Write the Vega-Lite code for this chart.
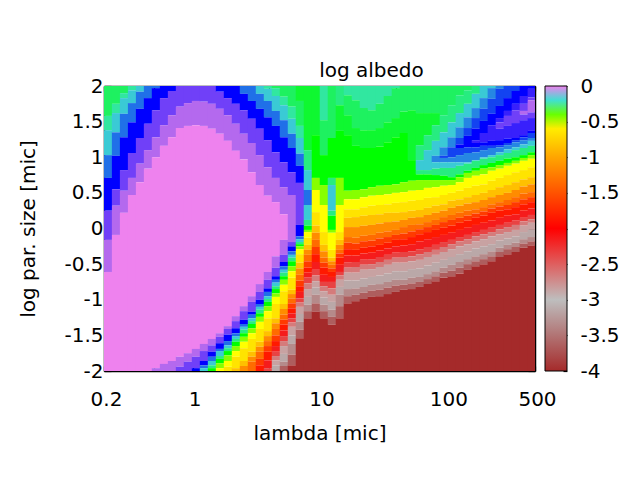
{"$schema":"https://vega.github.io/schema/vega-lite/v6.json","width":431,"height":285,"autosize":{"type":"none"},"padding":{"left":104,"top":86,"right":105,"bottom":109},"background":"white",
"config":{"view":{"stroke":null},"axis":{"labelFont":"DejaVu Sans","titleFont":"DejaVu Sans","labelFontSize":20,"titleFontSize":20,"titleFontWeight":"normal","labelColor":"#000","titleColor":"#000","tickColor":"#000","domainColor":"#000","grid":false,"zindex":1,"labelOverlap":false,"labelFlush":false,"labelBound":false,"tickWidth":1.2,"domainWidth":1.5}},
"title":{"text":"log albedo","font":"DejaVu Sans","fontSize":20,"fontWeight":"normal","color":"#000","anchor":"middle","dx":52,"offset":-5},
"resolve":{"scale":{"y":"independent"},"axis":{"x":"independent","y":"independent"}},
"layer":[
{"data":{"values":[
{"l":0.215,"s":2},{"l":0.215,"s":1.58,"v":-0.27},{"l":0.215,"s":1.38,"v":-0.23},{"l":0.215,"s":1.03,"v":-0.19},{"l":0.215,"s":0.71,"v":-0.15},{"l":0.215,"s":0.25,"v":-0.1},{"l":0.215,"s":-0.16,"v":-0.07},{"l":0.215,"s":-0.61,"v":-0.04},{"l":0.215,"s":-2,"v":0},
{"l":0.249,"s":2},{"l":0.249,"s":1.75,"v":-0.27},{"l":0.249,"s":1.62,"v":-0.23},{"l":0.249,"s":1.35,"v":-0.19},{"l":0.249,"s":1.02,"v":-0.15},{"l":0.249,"s":0.55,"v":-0.1},{"l":0.249,"s":0.32,"v":-0.07},{"l":0.249,"s":-0.09,"v":-0.04},{"l":0.249,"s":-2,"v":0},
{"l":0.288,"s":2},{"l":0.288,"s":1.9,"v":-0.27},{"l":0.288,"s":1.83,"v":-0.23},{"l":0.288,"s":1.61,"v":-0.19},{"l":0.288,"s":1.28,"v":-0.15},{"l":0.288,"s":0.82,"v":-0.1},{"l":0.288,"s":0.53,"v":-0.07},{"l":0.288,"s":0.22,"v":-0.04},{"l":0.288,"s":-2,"v":0},
{"l":0.333,"s":2},{"l":0.333,"s":1.94,"v":-0.23},{"l":0.333,"s":1.76,"v":-0.19},{"l":0.333,"s":1.49,"v":-0.15},{"l":0.333,"s":1.06,"v":-0.1},{"l":0.333,"s":0.71,"v":-0.07},{"l":0.333,"s":0.47,"v":-0.04},{"l":0.333,"s":-2,"v":0},
{"l":0.385,"s":2},{"l":0.385,"s":1.92,"v":-0.19},{"l":0.385,"s":1.68,"v":-0.15},{"l":0.385,"s":1.27,"v":-0.1},{"l":0.385,"s":0.91,"v":-0.07},{"l":0.385,"s":0.65,"v":-0.04},{"l":0.385,"s":-2,"v":0},
{"l":0.445,"s":2},{"l":0.445,"s":1.83,"v":-0.15},{"l":0.445,"s":1.47,"v":-0.1},{"l":0.445,"s":1.1,"v":-0.07},{"l":0.445,"s":0.84,"v":-0.04},{"l":0.445,"s":-2,"v":0},
{"l":0.514,"s":2},{"l":0.514,"s":1.97,"v":-0.15},{"l":0.514,"s":1.66,"v":-0.1},{"l":0.514,"s":1.28,"v":-0.07},{"l":0.514,"s":1,"v":-0.04},{"l":0.514,"s":-1.96,"v":0},{"l":0.514,"s":-2,"v":-0.04},
{"l":0.595,"s":2},{"l":0.595,"s":1.83,"v":-0.1},{"l":0.595,"s":1.45,"v":-0.07},{"l":0.595,"s":1.16,"v":-0.04},{"l":0.595,"s":-1.9,"v":0},{"l":0.595,"s":-2,"v":-0.04},
{"l":0.688,"s":2},{"l":0.688,"s":1.93,"v":-0.1},{"l":0.688,"s":1.59,"v":-0.07},{"l":0.688,"s":1.28,"v":-0.04},{"l":0.688,"s":-1.86,"v":0},{"l":0.688,"s":-2,"v":-0.04},
{"l":0.795,"s":2},{"l":0.795,"s":1.71,"v":-0.07},{"l":0.795,"s":1.41,"v":-0.04},{"l":0.795,"s":-1.8,"v":0},{"l":0.795,"s":-1.94,"v":-0.04},{"l":0.795,"s":-2,"v":-0.07},
{"l":0.919,"s":2},{"l":0.919,"s":1.76,"v":-0.07},{"l":0.919,"s":1.44,"v":-0.04},{"l":0.919,"s":-1.75,"v":0},{"l":0.919,"s":-1.87,"v":-0.04},{"l":0.919,"s":-2,"v":-0.07},
{"l":1.063,"s":2},{"l":1.063,"s":1.79,"v":-0.07},{"l":1.063,"s":1.45,"v":-0.04},{"l":1.063,"s":-1.69,"v":0},{"l":1.063,"s":-1.8,"v":-0.04},{"l":1.063,"s":-1.96,"v":-0.07},{"l":1.063,"s":-2,"v":-0.1},
{"l":1.229,"s":2},{"l":1.229,"s":1.78,"v":-0.07},{"l":1.229,"s":1.44,"v":-0.04},{"l":1.229,"s":-1.62,"v":0},{"l":1.229,"s":-1.72,"v":-0.04},{"l":1.229,"s":-1.86,"v":-0.07},{"l":1.229,"s":-1.92,"v":-0.1},{"l":1.229,"s":-1.96,"v":-0.15},{"l":1.229,"s":-2,"v":-0.19},
{"l":1.421,"s":2},{"l":1.421,"s":1.75,"v":-0.07},{"l":1.421,"s":1.4,"v":-0.04},{"l":1.421,"s":-1.55,"v":0},{"l":1.421,"s":-1.64,"v":-0.04},{"l":1.421,"s":-1.73,"v":-0.07},{"l":1.421,"s":-1.8,"v":-0.1},{"l":1.421,"s":-1.86,"v":-0.15},{"l":1.421,"s":-1.92,"v":-0.19},{"l":1.421,"s":-1.96,"v":-0.25},{"l":1.421,"s":-2,"v":-0.33},
{"l":1.643,"s":2},{"l":1.643,"s":1.92,"v":-0.1},{"l":1.643,"s":1.68,"v":-0.07},{"l":1.643,"s":1.33,"v":-0.04},{"l":1.643,"s":-1.47,"v":0},{"l":1.643,"s":-1.52,"v":-0.04},{"l":1.643,"s":-1.61,"v":-0.07},{"l":1.643,"s":-1.69,"v":-0.1},{"l":1.643,"s":-1.72,"v":-0.15},{"l":1.643,"s":-1.79,"v":-0.19},{"l":1.643,"s":-1.83,"v":-0.25},{"l":1.643,"s":-1.89,"v":-0.33},{"l":1.643,"s":-1.96,"v":-0.42},{"l":1.643,"s":-2,"v":-0.5},
{"l":1.899,"s":2},{"l":1.899,"s":1.83,"v":-0.1},{"l":1.899,"s":1.59,"v":-0.07},{"l":1.899,"s":1.23,"v":-0.04},{"l":1.899,"s":-1.37,"v":0},{"l":1.899,"s":-1.41,"v":-0.04},{"l":1.899,"s":-1.49,"v":-0.07},{"l":1.899,"s":-1.58,"v":-0.1},{"l":1.899,"s":-1.64,"v":-0.15},{"l":1.899,"s":-1.68,"v":-0.19},{"l":1.899,"s":-1.72,"v":-0.25},{"l":1.899,"s":-1.78,"v":-0.33},{"l":1.899,"s":-1.86,"v":-0.42},{"l":1.899,"s":-1.94,"v":-0.5},{"l":1.899,"s":-2,"v":-0.65},
{"l":2.196,"s":2},{"l":2.196,"s":1.75,"v":-0.1},{"l":2.196,"s":1.47,"v":-0.07},{"l":2.196,"s":1.09,"v":-0.04},{"l":2.196,"s":-1.23,"v":0},{"l":2.196,"s":-1.3,"v":-0.04},{"l":2.196,"s":-1.4,"v":-0.07},{"l":2.196,"s":-1.47,"v":-0.1},{"l":2.196,"s":-1.51,"v":-0.15},{"l":2.196,"s":-1.55,"v":-0.19},{"l":2.196,"s":-1.59,"v":-0.25},{"l":2.196,"s":-1.65,"v":-0.33},{"l":2.196,"s":-1.72,"v":-0.42},{"l":2.196,"s":-1.8,"v":-0.5},{"l":2.196,"s":-1.96,"v":-0.65},{"l":2.196,"s":-2,"v":-0.85},
{"l":2.539,"s":2},{"l":2.539,"s":1.89,"v":-0.15},{"l":2.539,"s":1.66,"v":-0.1},{"l":2.539,"s":1.33,"v":-0.07},{"l":2.539,"s":0.97,"v":-0.04},{"l":2.539,"s":-1.09,"v":0},{"l":2.539,"s":-1.16,"v":-0.04},{"l":2.539,"s":-1.28,"v":-0.07},{"l":2.539,"s":-1.34,"v":-0.1},{"l":2.539,"s":-1.38,"v":-0.15},{"l":2.539,"s":-1.42,"v":-0.19},{"l":2.539,"s":-1.47,"v":-0.25},{"l":2.539,"s":-1.52,"v":-0.33},{"l":2.539,"s":-1.59,"v":-0.42},{"l":2.539,"s":-1.68,"v":-0.5},{"l":2.539,"s":-1.86,"v":-0.65},{"l":2.539,"s":-1.93,"v":-0.85},{"l":2.539,"s":-2,"v":-1.15},
{"l":2.936,"s":2},{"l":2.936,"s":1.79,"v":-0.15},{"l":2.936,"s":1.54,"v":-0.1},{"l":2.936,"s":1.2,"v":-0.07},{"l":2.936,"s":0.79,"v":-0.04},{"l":2.936,"s":-0.95,"v":0},{"l":2.936,"s":-1.03,"v":-0.04},{"l":2.936,"s":-1.17,"v":-0.07},{"l":2.936,"s":-1.21,"v":-0.1},{"l":2.936,"s":-1.26,"v":-0.15},{"l":2.936,"s":-1.3,"v":-0.19},{"l":2.936,"s":-1.34,"v":-0.25},{"l":2.936,"s":-1.4,"v":-0.33},{"l":2.936,"s":-1.47,"v":-0.42},{"l":2.936,"s":-1.55,"v":-0.5},{"l":2.936,"s":-1.73,"v":-0.65},{"l":2.936,"s":-1.8,"v":-0.85},{"l":2.936,"s":-1.87,"v":-1.15},{"l":2.936,"s":-2,"v":-1.35},
{"l":3.394,"s":2},{"l":3.394,"s":1.89,"v":-0.19},{"l":3.394,"s":1.68,"v":-0.15},{"l":3.394,"s":1.4,"v":-0.1},{"l":3.394,"s":1.03,"v":-0.07},{"l":3.394,"s":0.61,"v":-0.04},{"l":3.394,"s":-0.78,"v":0},{"l":3.394,"s":-0.89,"v":-0.04},{"l":3.394,"s":-1,"v":-0.07},{"l":3.394,"s":-1.06,"v":-0.1},{"l":3.394,"s":-1.1,"v":-0.15},{"l":3.394,"s":-1.14,"v":-0.19},{"l":3.394,"s":-1.19,"v":-0.25},{"l":3.394,"s":-1.24,"v":-0.33},{"l":3.394,"s":-1.31,"v":-0.42},{"l":3.394,"s":-1.41,"v":-0.5},{"l":3.394,"s":-1.59,"v":-0.65},{"l":3.394,"s":-1.66,"v":-0.85},{"l":3.394,"s":-1.73,"v":-1.15},{"l":3.394,"s":-1.83,"v":-1.35},{"l":3.394,"s":-1.92,"v":-1.65},{"l":3.394,"s":-2,"v":-1.85},
{"l":3.924,"s":2},{"l":3.924,"s":1.96,"v":-0.23},{"l":3.924,"s":1.79,"v":-0.19},{"l":3.924,"s":1.56,"v":-0.15},{"l":3.924,"s":1.24,"v":-0.1},{"l":3.924,"s":0.86,"v":-0.07},{"l":3.924,"s":0.46,"v":-0.04},{"l":3.924,"s":-0.61,"v":0},{"l":3.924,"s":-0.72,"v":-0.04},{"l":3.924,"s":-0.84,"v":-0.07},{"l":3.924,"s":-0.89,"v":-0.1},{"l":3.924,"s":-0.95,"v":-0.15},{"l":3.924,"s":-0.99,"v":-0.19},{"l":3.924,"s":-1.03,"v":-0.25},{"l":3.924,"s":-1.09,"v":-0.33},{"l":3.924,"s":-1.16,"v":-0.42},{"l":3.924,"s":-1.26,"v":-0.5},{"l":3.924,"s":-1.44,"v":-0.65},{"l":3.924,"s":-1.51,"v":-0.85},{"l":3.924,"s":-1.58,"v":-1.15},{"l":3.924,"s":-1.65,"v":-1.35},{"l":3.924,"s":-1.73,"v":-1.65},{"l":3.924,"s":-1.85,"v":-1.85},{"l":3.924,"s":-1.96,"v":-2.15},{"l":3.924,"s":-2,"v":-2.35},
{"l":4.537,"s":2},{"l":4.537,"s":1.97,"v":-0.27},{"l":4.537,"s":1.86,"v":-0.23},{"l":4.537,"s":1.65,"v":-0.19},{"l":4.537,"s":1.44,"v":-0.15},{"l":4.537,"s":1.07,"v":-0.1},{"l":4.537,"s":0.71,"v":-0.07},{"l":4.537,"s":0.37,"v":-0.04},{"l":4.537,"s":-0.39,"v":0},{"l":4.537,"s":-0.55,"v":-0.04},{"l":4.537,"s":-0.67,"v":-0.07},{"l":4.537,"s":-0.72,"v":-0.1},{"l":4.537,"s":-0.76,"v":-0.15},{"l":4.537,"s":-0.81,"v":-0.19},{"l":4.537,"s":-0.85,"v":-0.25},{"l":4.537,"s":-0.91,"v":-0.33},{"l":4.537,"s":-0.96,"v":-0.42},{"l":4.537,"s":-1.06,"v":-0.5},{"l":4.537,"s":-1.26,"v":-0.65},{"l":4.537,"s":-1.33,"v":-0.85},{"l":4.537,"s":-1.41,"v":-1.15},{"l":4.537,"s":-1.5,"v":-1.35},{"l":4.537,"s":-1.58,"v":-1.65},{"l":4.537,"s":-1.65,"v":-1.85},{"l":4.537,"s":-1.73,"v":-2.15},{"l":4.537,"s":-1.79,"v":-2.35},{"l":4.537,"s":-1.85,"v":-2.65},{"l":4.537,"s":-1.92,"v":-2.85},{"l":4.537,"s":-2,"v":-3.15},
{"l":5.246,"s":2},{"l":5.246,"s":1.85,"v":-0.27},{"l":5.246,"s":1.73,"v":-0.23},{"l":5.246,"s":1.52,"v":-0.19},{"l":5.246,"s":1.28,"v":-0.15},{"l":5.246,"s":0.93,"v":-0.1},{"l":5.246,"s":0.58,"v":-0.07},{"l":5.246,"s":0.2,"v":-0.04},{"l":5.246,"s":-0.16,"v":0},{"l":5.246,"s":-0.37,"v":-0.04},{"l":5.246,"s":-0.47,"v":-0.07},{"l":5.246,"s":-0.53,"v":-0.1},{"l":5.246,"s":-0.58,"v":-0.15},{"l":5.246,"s":-0.62,"v":-0.19},{"l":5.246,"s":-0.67,"v":-0.25},{"l":5.246,"s":-0.72,"v":-0.33},{"l":5.246,"s":-0.79,"v":-0.42},{"l":5.246,"s":-0.88,"v":-0.5},{"l":5.246,"s":-1.06,"v":-0.65},{"l":5.246,"s":-1.13,"v":-0.85},{"l":5.246,"s":-1.21,"v":-1.15},{"l":5.246,"s":-1.28,"v":-1.35},{"l":5.246,"s":-1.35,"v":-1.65},{"l":5.246,"s":-1.43,"v":-1.85},{"l":5.246,"s":-1.51,"v":-2.15},{"l":5.246,"s":-1.58,"v":-2.35},{"l":5.246,"s":-1.65,"v":-2.65},{"l":5.246,"s":-1.76,"v":-2.85},{"l":5.246,"s":-1.87,"v":-3.15},{"l":5.246,"s":-1.93,"v":-3.35},{"l":5.246,"s":-2,"v":-3.65},
{"l":6.066,"s":2},{"l":6.066,"s":1.71,"v":-0.27},{"l":6.066,"s":1.54,"v":-0.23},{"l":6.066,"s":1.33,"v":-0.19},{"l":6.066,"s":1.13,"v":-0.15},{"l":6.066,"s":0.79,"v":-0.1},{"l":6.066,"s":0.47,"v":-0.07},{"l":6.066,"s":-0.19,"v":-0.04},{"l":6.066,"s":-0.25,"v":-0.07},{"l":6.066,"s":-0.32,"v":-0.1},{"l":6.066,"s":-0.37,"v":-0.15},{"l":6.066,"s":-0.41,"v":-0.19},{"l":6.066,"s":-0.46,"v":-0.25},{"l":6.066,"s":-0.53,"v":-0.33},{"l":6.066,"s":-0.6,"v":-0.42},{"l":6.066,"s":-0.69,"v":-0.5},{"l":6.066,"s":-0.86,"v":-0.65},{"l":6.066,"s":-0.92,"v":-0.85},{"l":6.066,"s":-0.98,"v":-1.15},{"l":6.066,"s":-1.05,"v":-1.35},{"l":6.066,"s":-1.12,"v":-1.65},{"l":6.066,"s":-1.19,"v":-1.85},{"l":6.066,"s":-1.26,"v":-2.15},{"l":6.066,"s":-1.32,"v":-2.35},{"l":6.066,"s":-1.38,"v":-2.65},{"l":6.066,"s":-1.5,"v":-2.85},{"l":6.066,"s":-1.62,"v":-3.15},{"l":6.066,"s":-1.77,"v":-3.35},{"l":6.066,"s":-1.92,"v":-3.65},{"l":6.066,"s":-2,"v":-4},
{"l":7.013,"s":2},{"l":7.013,"s":1.79,"v":-0.3},{"l":7.013,"s":1.44,"v":-0.27},{"l":7.013,"s":1.27,"v":-0.23},{"l":7.013,"s":1.05,"v":-0.19},{"l":7.013,"s":0.88,"v":-0.15},{"l":7.013,"s":0.64,"v":-0.1},{"l":7.013,"s":0.05,"v":-0.07},{"l":7.013,"s":-0.11,"v":-0.1},{"l":7.013,"s":-0.15,"v":-0.15},{"l":7.013,"s":-0.19,"v":-0.19},{"l":7.013,"s":-0.22,"v":-0.25},{"l":7.013,"s":-0.25,"v":-0.33},{"l":7.013,"s":-0.29,"v":-0.42},{"l":7.013,"s":-0.36,"v":-0.5},{"l":7.013,"s":-0.48,"v":-0.65},{"l":7.013,"s":-0.56,"v":-0.85},{"l":7.013,"s":-0.65,"v":-1.15},{"l":7.013,"s":-0.73,"v":-1.35},{"l":7.013,"s":-0.81,"v":-1.65},{"l":7.013,"s":-0.89,"v":-1.85},{"l":7.013,"s":-0.98,"v":-2.15},{"l":7.013,"s":-1.04,"v":-2.35},{"l":7.013,"s":-1.1,"v":-2.65},{"l":7.013,"s":-1.2,"v":-2.85},{"l":7.013,"s":-1.31,"v":-3.15},{"l":7.013,"s":-1.42,"v":-3.35},{"l":7.013,"s":-1.54,"v":-3.65},{"l":7.013,"s":-2,"v":-4},
{"l":8.108,"s":2},{"l":8.108,"s":1.1,"v":-0.3},{"l":8.108,"s":0.82,"v":-0.25},{"l":8.108,"s":0.54,"v":-0.19},{"l":8.108,"s":0.33,"v":-0.15},{"l":8.108,"s":0.12,"v":-0.19},{"l":8.108,"s":0.04,"v":-0.25},{"l":8.108,"s":-0.02,"v":-0.33},{"l":8.108,"s":-0.05,"v":-0.42},{"l":8.108,"s":-0.13,"v":-0.5},{"l":8.108,"s":-0.23,"v":-0.65},{"l":8.108,"s":-0.3,"v":-0.85},{"l":8.108,"s":-0.37,"v":-1.15},{"l":8.108,"s":-0.46,"v":-1.35},{"l":8.108,"s":-0.55,"v":-1.65},{"l":8.108,"s":-0.62,"v":-1.85},{"l":8.108,"s":-0.69,"v":-2.15},{"l":8.108,"s":-0.77,"v":-2.35},{"l":8.108,"s":-0.85,"v":-2.65},{"l":8.108,"s":-0.96,"v":-2.85},{"l":8.108,"s":-1.07,"v":-3.15},{"l":8.108,"s":-1.16,"v":-3.35},{"l":8.108,"s":-1.26,"v":-3.65},{"l":8.108,"s":-2,"v":-4},
{"l":9.375,"s":2},{"l":9.375,"s":1.31,"v":-0.3},{"l":9.375,"s":0.71,"v":-0.33},{"l":9.375,"s":0.54,"v":-0.42},{"l":9.375,"s":0.23,"v":-0.5},{"l":9.375,"s":0.04,"v":-0.65},{"l":9.375,"s":-0.06,"v":-0.85},{"l":9.375,"s":-0.16,"v":-1.15},{"l":9.375,"s":-0.26,"v":-1.35},{"l":9.375,"s":-0.36,"v":-1.65},{"l":9.375,"s":-0.47,"v":-1.85},{"l":9.375,"s":-0.58,"v":-2.15},{"l":9.375,"s":-0.66,"v":-2.35},{"l":9.375,"s":-0.74,"v":-2.65},{"l":9.375,"s":-0.83,"v":-2.85},{"l":9.375,"s":-0.93,"v":-3.15},{"l":9.375,"s":-1.05,"v":-3.35},{"l":9.375,"s":-1.17,"v":-3.65},{"l":9.375,"s":-2,"v":-4},
{"l":10.84,"s":2},{"l":10.84,"s":1.52,"v":-0.23},{"l":10.84,"s":1.03,"v":-0.27},{"l":10.84,"s":0.61,"v":-0.33},{"l":10.84,"s":0.33,"v":-0.42},{"l":10.84,"s":-0.05,"v":-0.5},{"l":10.84,"s":-0.23,"v":-0.65},{"l":10.84,"s":-0.32,"v":-0.85},{"l":10.84,"s":-0.41,"v":-1.15},{"l":10.84,"s":-0.48,"v":-1.35},{"l":10.84,"s":-0.55,"v":-1.65},{"l":10.84,"s":-0.65,"v":-1.85},{"l":10.84,"s":-0.75,"v":-2.15},{"l":10.84,"s":-0.81,"v":-2.35},{"l":10.84,"s":-0.88,"v":-2.65},{"l":10.84,"s":-0.97,"v":-2.85},{"l":10.84,"s":-1.07,"v":-3.15},{"l":10.84,"s":-1.16,"v":-3.35},{"l":10.84,"s":-1.26,"v":-3.65},{"l":10.84,"s":-2,"v":-4},
{"l":12.53,"s":2},{"l":12.53,"s":1.27,"v":-0.27},{"l":12.53,"s":0.71,"v":-0.33},{"l":12.53,"s":0.61,"v":-0.25},{"l":12.53,"s":0.25,"v":-0.19},{"l":12.53,"s":0.18,"v":-0.25},{"l":12.53,"s":-0.02,"v":-0.33},{"l":12.53,"s":-0.06,"v":-0.42},{"l":12.53,"s":-0.3,"v":-0.5},{"l":12.53,"s":-0.41,"v":-0.65},{"l":12.53,"s":-0.46,"v":-0.85},{"l":12.53,"s":-0.51,"v":-1.15},{"l":12.53,"s":-0.56,"v":-1.35},{"l":12.53,"s":-0.61,"v":-1.65},{"l":12.53,"s":-0.68,"v":-1.85},{"l":12.53,"s":-0.75,"v":-2.15},{"l":12.53,"s":-0.84,"v":-2.35},{"l":12.53,"s":-0.93,"v":-2.65},{"l":12.53,"s":-1.03,"v":-2.85},{"l":12.53,"s":-1.14,"v":-3.15},{"l":12.53,"s":-1.24,"v":-3.35},{"l":12.53,"s":-1.35,"v":-3.65},{"l":12.53,"s":-2,"v":-4},
{"l":14.49,"s":2},{"l":14.49,"s":1.73,"v":-0.25},{"l":14.49,"s":1.37,"v":-0.3},{"l":14.49,"s":0.71,"v":-0.33},{"l":14.49,"s":0.33,"v":-0.42},{"l":14.49,"s":-0.05,"v":-0.5},{"l":14.49,"s":-0.16,"v":-0.65},{"l":14.49,"s":-0.23,"v":-0.85},{"l":14.49,"s":-0.3,"v":-1.15},{"l":14.49,"s":-0.35,"v":-1.35},{"l":14.49,"s":-0.41,"v":-1.65},{"l":14.49,"s":-0.51,"v":-1.85},{"l":14.49,"s":-0.61,"v":-2.15},{"l":14.49,"s":-0.66,"v":-2.35},{"l":14.49,"s":-0.72,"v":-2.65},{"l":14.49,"s":-0.82,"v":-2.85},{"l":14.49,"s":-0.93,"v":-3.15},{"l":14.49,"s":-1.09,"v":-3.35},{"l":14.49,"s":-1.26,"v":-3.65},{"l":14.49,"s":-2,"v":-4},
{"l":16.75,"s":2},{"l":16.75,"s":1.87,"v":-0.23},{"l":16.75,"s":1.59,"v":-0.27},{"l":16.75,"s":1.31,"v":-0.3},{"l":16.75,"s":0.53,"v":-0.33},{"l":16.75,"s":0.41,"v":-0.42},{"l":16.75,"s":0.27,"v":-0.5},{"l":16.75,"s":0.15,"v":-0.65},{"l":16.75,"s":0.02,"v":-0.85},{"l":16.75,"s":-0.12,"v":-1.15},{"l":16.75,"s":-0.2,"v":-1.35},{"l":16.75,"s":-0.29,"v":-1.65},{"l":16.75,"s":-0.38,"v":-1.85},{"l":16.75,"s":-0.48,"v":-2.15},{"l":16.75,"s":-0.55,"v":-2.35},{"l":16.75,"s":-0.62,"v":-2.65},{"l":16.75,"s":-0.73,"v":-2.85},{"l":16.75,"s":-0.85,"v":-3.15},{"l":16.75,"s":-0.95,"v":-3.35},{"l":16.75,"s":-1.05,"v":-3.65},{"l":16.75,"s":-2,"v":-4},
{"l":19.37,"s":2},{"l":19.37,"s":1.8,"v":-0.23},{"l":19.37,"s":1.41,"v":-0.27},{"l":19.37,"s":1.16,"v":-0.3},{"l":19.37,"s":0.54,"v":-0.33},{"l":19.37,"s":0.41,"v":-0.42},{"l":19.37,"s":0.27,"v":-0.5},{"l":19.37,"s":0.16,"v":-0.65},{"l":19.37,"s":0.02,"v":-0.85},{"l":19.37,"s":-0.13,"v":-1.15},{"l":19.37,"s":-0.21,"v":-1.35},{"l":19.37,"s":-0.3,"v":-1.65},{"l":19.37,"s":-0.38,"v":-1.85},{"l":19.37,"s":-0.47,"v":-2.15},{"l":19.37,"s":-0.54,"v":-2.35},{"l":19.37,"s":-0.62,"v":-2.65},{"l":19.37,"s":-0.73,"v":-2.85},{"l":19.37,"s":-0.84,"v":-3.15},{"l":19.37,"s":-0.93,"v":-3.35},{"l":19.37,"s":-1.02,"v":-3.65},{"l":19.37,"s":-2,"v":-4},
{"l":22.39,"s":2},{"l":22.39,"s":1.69,"v":-0.23},{"l":22.39,"s":1.38,"v":-0.27},{"l":22.39,"s":1.13,"v":-0.3},{"l":22.39,"s":0.55,"v":-0.33},{"l":22.39,"s":0.44,"v":-0.42},{"l":22.39,"s":0.3,"v":-0.5},{"l":22.39,"s":0.18,"v":-0.65},{"l":22.39,"s":0.04,"v":-0.85},{"l":22.39,"s":-0.1,"v":-1.15},{"l":22.39,"s":-0.18,"v":-1.35},{"l":22.39,"s":-0.27,"v":-1.65},{"l":22.39,"s":-0.35,"v":-1.85},{"l":22.39,"s":-0.44,"v":-2.15},{"l":22.39,"s":-0.51,"v":-2.35},{"l":22.39,"s":-0.58,"v":-2.65},{"l":22.39,"s":-0.7,"v":-2.85},{"l":22.39,"s":-0.82,"v":-3.15},{"l":22.39,"s":-0.9,"v":-3.35},{"l":22.39,"s":-0.99,"v":-3.65},{"l":22.39,"s":-2,"v":-4},
{"l":25.89,"s":2},{"l":25.89,"s":1.66,"v":-0.23},{"l":25.89,"s":1.38,"v":-0.27},{"l":25.89,"s":1.13,"v":-0.3},{"l":25.89,"s":0.58,"v":-0.33},{"l":25.89,"s":0.46,"v":-0.42},{"l":25.89,"s":0.32,"v":-0.5},{"l":25.89,"s":0.19,"v":-0.65},{"l":25.89,"s":0.05,"v":-0.85},{"l":25.89,"s":-0.09,"v":-1.15},{"l":25.89,"s":-0.17,"v":-1.35},{"l":25.89,"s":-0.25,"v":-1.65},{"l":25.89,"s":-0.34,"v":-1.85},{"l":25.89,"s":-0.43,"v":-2.15},{"l":25.89,"s":-0.5,"v":-2.35},{"l":25.89,"s":-0.57,"v":-2.65},{"l":25.89,"s":-0.68,"v":-2.85},{"l":25.89,"s":-0.79,"v":-3.15},{"l":25.89,"s":-0.87,"v":-3.35},{"l":25.89,"s":-0.96,"v":-3.65},{"l":25.89,"s":-2,"v":-4},
{"l":29.94,"s":2},{"l":29.94,"s":1.75,"v":-0.23},{"l":29.94,"s":1.41,"v":-0.27},{"l":29.94,"s":1.15,"v":-0.3},{"l":29.94,"s":0.6,"v":-0.33},{"l":29.94,"s":0.47,"v":-0.42},{"l":29.94,"s":0.33,"v":-0.5},{"l":29.94,"s":0.2,"v":-0.65},{"l":29.94,"s":0.07,"v":-0.85},{"l":29.94,"s":-0.06,"v":-1.15},{"l":29.94,"s":-0.14,"v":-1.35},{"l":29.94,"s":-0.23,"v":-1.65},{"l":29.94,"s":-0.31,"v":-1.85},{"l":29.94,"s":-0.4,"v":-2.15},{"l":29.94,"s":-0.47,"v":-2.35},{"l":29.94,"s":-0.54,"v":-2.65},{"l":29.94,"s":-0.66,"v":-2.85},{"l":29.94,"s":-0.78,"v":-3.15},{"l":29.94,"s":-0.86,"v":-3.35},{"l":29.94,"s":-0.95,"v":-3.65},{"l":29.94,"s":-2,"v":-4},
{"l":34.61,"s":2},{"l":34.61,"s":1.86,"v":-0.23},{"l":34.61,"s":1.49,"v":-0.27},{"l":34.61,"s":1.21,"v":-0.3},{"l":34.61,"s":0.61,"v":-0.33},{"l":34.61,"s":0.48,"v":-0.42},{"l":34.61,"s":0.34,"v":-0.5},{"l":34.61,"s":0.22,"v":-0.65},{"l":34.61,"s":0.09,"v":-0.85},{"l":34.61,"s":-0.04,"v":-1.15},{"l":34.61,"s":-0.12,"v":-1.35},{"l":34.61,"s":-0.2,"v":-1.65},{"l":34.61,"s":-0.28,"v":-1.85},{"l":34.61,"s":-0.37,"v":-2.15},{"l":34.61,"s":-0.44,"v":-2.35},{"l":34.61,"s":-0.51,"v":-2.65},{"l":34.61,"s":-0.63,"v":-2.85},{"l":34.61,"s":-0.75,"v":-3.15},{"l":34.61,"s":-0.83,"v":-3.35},{"l":34.61,"s":-0.92,"v":-3.65},{"l":34.61,"s":-2,"v":-4},
{"l":40.02,"s":2},{"l":40.02,"s":1.97,"v":-0.23},{"l":40.02,"s":1.55,"v":-0.27},{"l":40.02,"s":1.28,"v":-0.3},{"l":40.02,"s":0.62,"v":-0.33},{"l":40.02,"s":0.5,"v":-0.42},{"l":40.02,"s":0.36,"v":-0.5},{"l":40.02,"s":0.22,"v":-0.65},{"l":40.02,"s":0.1,"v":-0.85},{"l":40.02,"s":-0.02,"v":-1.15},{"l":40.02,"s":-0.09,"v":-1.35},{"l":40.02,"s":-0.16,"v":-1.65},{"l":40.02,"s":-0.25,"v":-1.85},{"l":40.02,"s":-0.34,"v":-2.15},{"l":40.02,"s":-0.41,"v":-2.35},{"l":40.02,"s":-0.48,"v":-2.65},{"l":40.02,"s":-0.6,"v":-2.85},{"l":40.02,"s":-0.72,"v":-3.15},{"l":40.02,"s":-0.8,"v":-3.35},{"l":40.02,"s":-0.89,"v":-3.65},{"l":40.02,"s":-2,"v":-4},
{"l":46.27,"s":2},{"l":46.27,"s":1.64,"v":-0.27},{"l":46.27,"s":1.34,"v":-0.3},{"l":46.27,"s":0.65,"v":-0.33},{"l":46.27,"s":0.51,"v":-0.42},{"l":46.27,"s":0.37,"v":-0.5},{"l":46.27,"s":0.23,"v":-0.65},{"l":46.27,"s":0.12,"v":-0.85},{"l":46.27,"s":0.02,"v":-1.15},{"l":46.27,"s":-0.07,"v":-1.35},{"l":46.27,"s":-0.15,"v":-1.65},{"l":46.27,"s":-0.24,"v":-1.85},{"l":46.27,"s":-0.33,"v":-2.15},{"l":46.27,"s":-0.4,"v":-2.35},{"l":46.27,"s":-0.48,"v":-2.65},{"l":46.27,"s":-0.6,"v":-2.85},{"l":46.27,"s":-0.72,"v":-3.15},{"l":46.27,"s":-0.79,"v":-3.35},{"l":46.27,"s":-0.86,"v":-3.65},{"l":46.27,"s":-2,"v":-4},
{"l":53.5,"s":2},{"l":53.5,"s":1.66,"v":-0.27},{"l":53.5,"s":0.96,"v":-0.3},{"l":53.5,"s":0.67,"v":-0.33},{"l":53.5,"s":0.53,"v":-0.42},{"l":53.5,"s":0.39,"v":-0.5},{"l":53.5,"s":0.25,"v":-0.65},{"l":53.5,"s":0.15,"v":-0.85},{"l":53.5,"s":0.05,"v":-1.15},{"l":53.5,"s":-0.04,"v":-1.35},{"l":53.5,"s":-0.12,"v":-1.65},{"l":53.5,"s":-0.22,"v":-1.85},{"l":53.5,"s":-0.32,"v":-2.15},{"l":53.5,"s":-0.39,"v":-2.35},{"l":53.5,"s":-0.46,"v":-2.65},{"l":53.5,"s":-0.57,"v":-2.85},{"l":53.5,"s":-0.69,"v":-3.15},{"l":53.5,"s":-0.77,"v":-3.35},{"l":53.5,"s":-0.85,"v":-3.65},{"l":53.5,"s":-2,"v":-4},
{"l":61.85,"s":2},{"l":61.85,"s":1.62,"v":-0.27},{"l":61.85,"s":1.17,"v":-0.3},{"l":61.85,"s":0.96,"v":-0.25},{"l":61.85,"s":0.82,"v":-0.19},{"l":61.85,"s":0.76,"v":-0.25},{"l":61.85,"s":0.68,"v":-0.33},{"l":61.85,"s":0.54,"v":-0.42},{"l":61.85,"s":0.4,"v":-0.5},{"l":61.85,"s":0.26,"v":-0.65},{"l":61.85,"s":0.16,"v":-0.85},{"l":61.85,"s":0.06,"v":-1.15},{"l":61.85,"s":-0.01,"v":-1.35},{"l":61.85,"s":-0.08,"v":-1.65},{"l":61.85,"s":-0.18,"v":-1.85},{"l":61.85,"s":-0.29,"v":-2.15},{"l":61.85,"s":-0.36,"v":-2.35},{"l":61.85,"s":-0.44,"v":-2.65},{"l":61.85,"s":-0.56,"v":-2.85},{"l":61.85,"s":-0.68,"v":-3.15},{"l":61.85,"s":-0.75,"v":-3.35},{"l":61.85,"s":-0.82,"v":-3.65},{"l":61.85,"s":-2,"v":-4},
{"l":71.51,"s":2},{"l":71.51,"s":1.62,"v":-0.27},{"l":71.51,"s":1.31,"v":-0.3},{"l":71.51,"s":1.1,"v":-0.25},{"l":71.51,"s":0.82,"v":-0.19},{"l":71.51,"s":0.76,"v":-0.25},{"l":71.51,"s":0.68,"v":-0.33},{"l":71.51,"s":0.57,"v":-0.42},{"l":71.51,"s":0.43,"v":-0.5},{"l":71.51,"s":0.29,"v":-0.65},{"l":71.51,"s":0.19,"v":-0.85},{"l":71.51,"s":0.09,"v":-1.15},{"l":71.51,"s":0.02,"v":-1.35},{"l":71.51,"s":-0.05,"v":-1.65},{"l":71.51,"s":-0.15,"v":-1.85},{"l":71.51,"s":-0.26,"v":-2.15},{"l":71.51,"s":-0.33,"v":-2.35},{"l":71.51,"s":-0.4,"v":-2.65},{"l":71.51,"s":-0.52,"v":-2.85},{"l":71.51,"s":-0.64,"v":-3.15},{"l":71.51,"s":-0.71,"v":-3.35},{"l":71.51,"s":-0.78,"v":-3.65},{"l":71.51,"s":-2,"v":-4},
{"l":82.69,"s":2},{"l":82.69,"s":1.62,"v":-0.27},{"l":82.69,"s":1.45,"v":-0.3},{"l":82.69,"s":1.23,"v":-0.25},{"l":82.69,"s":1.02,"v":-0.19},{"l":82.69,"s":0.93,"v":-0.16},{"l":82.69,"s":0.84,"v":-0.19},{"l":82.69,"s":0.75,"v":-0.25},{"l":82.69,"s":0.68,"v":-0.33},{"l":82.69,"s":0.58,"v":-0.42},{"l":82.69,"s":0.44,"v":-0.5},{"l":82.69,"s":0.32,"v":-0.65},{"l":82.69,"s":0.22,"v":-0.85},{"l":82.69,"s":0.12,"v":-1.15},{"l":82.69,"s":0.05,"v":-1.35},{"l":82.69,"s":-0.02,"v":-1.65},{"l":82.69,"s":-0.12,"v":-1.85},{"l":82.69,"s":-0.23,"v":-2.15},{"l":82.69,"s":-0.3,"v":-2.35},{"l":82.69,"s":-0.37,"v":-2.65},{"l":82.69,"s":-0.48,"v":-2.85},{"l":82.69,"s":-0.6,"v":-3.15},{"l":82.69,"s":-0.67,"v":-3.35},{"l":82.69,"s":-0.74,"v":-3.65},{"l":82.69,"s":-2,"v":-4},
{"l":95.6,"s":2},{"l":95.6,"s":1.59,"v":-0.27},{"l":95.6,"s":1.35,"v":-0.25},{"l":95.6,"s":1.14,"v":-0.19},{"l":95.6,"s":1.02,"v":-0.16},{"l":95.6,"s":0.99,"v":-0.13},{"l":95.6,"s":0.93,"v":-0.16},{"l":95.6,"s":0.85,"v":-0.19},{"l":95.6,"s":0.74,"v":-0.25},{"l":95.6,"s":0.68,"v":-0.33},{"l":95.6,"s":0.6,"v":-0.42},{"l":95.6,"s":0.47,"v":-0.5},{"l":95.6,"s":0.34,"v":-0.65},{"l":95.6,"s":0.25,"v":-0.85},{"l":95.6,"s":0.16,"v":-1.15},{"l":95.6,"s":0.09,"v":-1.35},{"l":95.6,"s":0.01,"v":-1.65},{"l":95.6,"s":-0.09,"v":-1.85},{"l":95.6,"s":-0.19,"v":-2.15},{"l":95.6,"s":-0.26,"v":-2.35},{"l":95.6,"s":-0.33,"v":-2.65},{"l":95.6,"s":-0.44,"v":-2.85},{"l":95.6,"s":-0.55,"v":-3.15},{"l":95.6,"s":-0.62,"v":-3.35},{"l":95.6,"s":-0.69,"v":-3.65},{"l":95.6,"s":-2,"v":-4},
{"l":110.5,"s":2},{"l":110.5,"s":1.73,"v":-0.27},{"l":110.5,"s":1.49,"v":-0.25},{"l":110.5,"s":1.28,"v":-0.19},{"l":110.5,"s":1.14,"v":-0.16},{"l":110.5,"s":1,"v":-0.13},{"l":110.5,"s":0.93,"v":-0.16},{"l":110.5,"s":0.85,"v":-0.19},{"l":110.5,"s":0.72,"v":-0.25},{"l":110.5,"s":0.68,"v":-0.33},{"l":110.5,"s":0.61,"v":-0.42},{"l":110.5,"s":0.5,"v":-0.5},{"l":110.5,"s":0.39,"v":-0.65},{"l":110.5,"s":0.29,"v":-0.85},{"l":110.5,"s":0.19,"v":-1.15},{"l":110.5,"s":0.12,"v":-1.35},{"l":110.5,"s":0.04,"v":-1.65},{"l":110.5,"s":-0.06,"v":-1.85},{"l":110.5,"s":-0.16,"v":-2.15},{"l":110.5,"s":-0.22,"v":-2.35},{"l":110.5,"s":-0.29,"v":-2.65},{"l":110.5,"s":-0.4,"v":-2.85},{"l":110.5,"s":-0.51,"v":-3.15},{"l":110.5,"s":-0.59,"v":-3.35},{"l":110.5,"s":-0.67,"v":-3.65},{"l":110.5,"s":-2,"v":-4},
{"l":127.8,"s":2},{"l":127.8,"s":1.87,"v":-0.27},{"l":127.8,"s":1.62,"v":-0.25},{"l":127.8,"s":1.42,"v":-0.19},{"l":127.8,"s":1.27,"v":-0.16},{"l":127.8,"s":1.18,"v":-0.13},{"l":127.8,"s":1.13,"v":-0.1},{"l":127.8,"s":1.03,"v":-0.13},{"l":127.8,"s":0.93,"v":-0.16},{"l":127.8,"s":0.88,"v":-0.19},{"l":127.8,"s":0.76,"v":-0.25},{"l":127.8,"s":0.72,"v":-0.33},{"l":127.8,"s":0.65,"v":-0.42},{"l":127.8,"s":0.53,"v":-0.5},{"l":127.8,"s":0.41,"v":-0.65},{"l":127.8,"s":0.32,"v":-0.85},{"l":127.8,"s":0.22,"v":-1.15},{"l":127.8,"s":0.15,"v":-1.35},{"l":127.8,"s":0.08,"v":-1.65},{"l":127.8,"s":-0.02,"v":-1.85},{"l":127.8,"s":-0.12,"v":-2.15},{"l":127.8,"s":-0.18,"v":-2.35},{"l":127.8,"s":-0.25,"v":-2.65},{"l":127.8,"s":-0.36,"v":-2.85},{"l":127.8,"s":-0.47,"v":-3.15},{"l":127.8,"s":-0.55,"v":-3.35},{"l":127.8,"s":-0.63,"v":-3.65},{"l":127.8,"s":-2,"v":-4},
{"l":147.8,"s":2},{"l":147.8,"s":1.94,"v":-0.27},{"l":147.8,"s":1.75,"v":-0.25},{"l":147.8,"s":1.56,"v":-0.19},{"l":147.8,"s":1.41,"v":-0.16},{"l":147.8,"s":1.3,"v":-0.13},{"l":147.8,"s":1.14,"v":-0.1},{"l":147.8,"s":1.06,"v":-0.13},{"l":147.8,"s":0.93,"v":-0.16},{"l":147.8,"s":0.91,"v":-0.19},{"l":147.8,"s":0.81,"v":-0.25},{"l":147.8,"s":0.78,"v":-0.33},{"l":147.8,"s":0.71,"v":-0.42},{"l":147.8,"s":0.57,"v":-0.5},{"l":147.8,"s":0.44,"v":-0.65},{"l":147.8,"s":0.35,"v":-0.85},{"l":147.8,"s":0.25,"v":-1.15},{"l":147.8,"s":0.18,"v":-1.35},{"l":147.8,"s":0.11,"v":-1.65},{"l":147.8,"s":0.01,"v":-1.85},{"l":147.8,"s":-0.09,"v":-2.15},{"l":147.8,"s":-0.15,"v":-2.35},{"l":147.8,"s":-0.22,"v":-2.65},{"l":147.8,"s":-0.32,"v":-2.85},{"l":147.8,"s":-0.43,"v":-3.15},{"l":147.8,"s":-0.5,"v":-3.35},{"l":147.8,"s":-0.58,"v":-3.65},{"l":147.8,"s":-2,"v":-4},
{"l":170.9,"s":2},{"l":170.9,"s":1.89,"v":-0.25},{"l":170.9,"s":1.69,"v":-0.19},{"l":170.9,"s":1.55,"v":-0.16},{"l":170.9,"s":1.4,"v":-0.13},{"l":170.9,"s":1.24,"v":-0.1},{"l":170.9,"s":1.2,"v":-0.085},{"l":170.9,"s":1.14,"v":-0.1},{"l":170.9,"s":1.07,"v":-0.13},{"l":170.9,"s":0.96,"v":-0.16},{"l":170.9,"s":0.95,"v":-0.19},{"l":170.9,"s":0.85,"v":-0.25},{"l":170.9,"s":0.81,"v":-0.33},{"l":170.9,"s":0.74,"v":-0.42},{"l":170.9,"s":0.6,"v":-0.5},{"l":170.9,"s":0.47,"v":-0.65},{"l":170.9,"s":0.37,"v":-0.85},{"l":170.9,"s":0.27,"v":-1.15},{"l":170.9,"s":0.21,"v":-1.35},{"l":170.9,"s":0.15,"v":-1.65},{"l":170.9,"s":0.05,"v":-1.85},{"l":170.9,"s":-0.05,"v":-2.15},{"l":170.9,"s":-0.11,"v":-2.35},{"l":170.9,"s":-0.18,"v":-2.65},{"l":170.9,"s":-0.28,"v":-2.85},{"l":170.9,"s":-0.39,"v":-3.15},{"l":170.9,"s":-0.46,"v":-3.35},{"l":170.9,"s":-0.53,"v":-3.65},{"l":170.9,"s":-2,"v":-4},
{"l":197.6,"s":2},{"l":197.6,"s":1.83,"v":-0.19},{"l":197.6,"s":1.68,"v":-0.16},{"l":197.6,"s":1.51,"v":-0.13},{"l":197.6,"s":1.34,"v":-0.1},{"l":197.6,"s":1.21,"v":-0.085},{"l":197.6,"s":1.16,"v":-0.1},{"l":197.6,"s":1.1,"v":-0.13},{"l":197.6,"s":1,"v":-0.16},{"l":197.6,"s":0.98,"v":-0.19},{"l":197.6,"s":0.89,"v":-0.25},{"l":197.6,"s":0.84,"v":-0.33},{"l":197.6,"s":0.76,"v":-0.42},{"l":197.6,"s":0.62,"v":-0.5},{"l":197.6,"s":0.5,"v":-0.65},{"l":197.6,"s":0.4,"v":-0.85},{"l":197.6,"s":0.3,"v":-1.15},{"l":197.6,"s":0.24,"v":-1.35},{"l":197.6,"s":0.18,"v":-1.65},{"l":197.6,"s":0.08,"v":-1.85},{"l":197.6,"s":-0.02,"v":-2.15},{"l":197.6,"s":-0.08,"v":-2.35},{"l":197.6,"s":-0.15,"v":-2.65},{"l":197.6,"s":-0.25,"v":-2.85},{"l":197.6,"s":-0.36,"v":-3.15},{"l":197.6,"s":-0.43,"v":-3.35},{"l":197.6,"s":-0.5,"v":-3.65},{"l":197.6,"s":-2,"v":-4},
{"l":228.4,"s":2},{"l":228.4,"s":1.97,"v":-0.19},{"l":228.4,"s":1.82,"v":-0.16},{"l":228.4,"s":1.61,"v":-0.13},{"l":228.4,"s":1.45,"v":-0.1},{"l":228.4,"s":1.23,"v":-0.085},{"l":228.4,"s":1.16,"v":-0.1},{"l":228.4,"s":1.13,"v":-0.13},{"l":228.4,"s":1.03,"v":-0.16},{"l":228.4,"s":1,"v":-0.19},{"l":228.4,"s":0.92,"v":-0.25},{"l":228.4,"s":0.86,"v":-0.33},{"l":228.4,"s":0.81,"v":-0.42},{"l":228.4,"s":0.67,"v":-0.5},{"l":228.4,"s":0.54,"v":-0.65},{"l":228.4,"s":0.44,"v":-0.85},{"l":228.4,"s":0.34,"v":-1.15},{"l":228.4,"s":0.28,"v":-1.35},{"l":228.4,"s":0.22,"v":-1.65},{"l":228.4,"s":0.11,"v":-1.85},{"l":228.4,"s":0.01,"v":-2.15},{"l":228.4,"s":-0.05,"v":-2.35},{"l":228.4,"s":-0.11,"v":-2.65},{"l":228.4,"s":-0.22,"v":-2.85},{"l":228.4,"s":-0.32,"v":-3.15},{"l":228.4,"s":-0.39,"v":-3.35},{"l":228.4,"s":-0.46,"v":-3.65},{"l":228.4,"s":-2,"v":-4},
{"l":264.1,"s":2},{"l":264.1,"s":1.96,"v":-0.16},{"l":264.1,"s":1.72,"v":-0.13},{"l":264.1,"s":1.55,"v":-0.1},{"l":264.1,"s":1.49,"v":-0.085},{"l":264.1,"s":1.4,"v":-0.07},{"l":264.1,"s":1.24,"v":-0.085},{"l":264.1,"s":1.17,"v":-0.1},{"l":264.1,"s":1.14,"v":-0.13},{"l":264.1,"s":1.07,"v":-0.16},{"l":264.1,"s":1.03,"v":-0.19},{"l":264.1,"s":0.95,"v":-0.25},{"l":264.1,"s":0.89,"v":-0.33},{"l":264.1,"s":0.84,"v":-0.42},{"l":264.1,"s":0.71,"v":-0.5},{"l":264.1,"s":0.58,"v":-0.65},{"l":264.1,"s":0.47,"v":-0.85},{"l":264.1,"s":0.37,"v":-1.15},{"l":264.1,"s":0.31,"v":-1.35},{"l":264.1,"s":0.25,"v":-1.65},{"l":264.1,"s":0.15,"v":-1.85},{"l":264.1,"s":0.05,"v":-2.15},{"l":264.1,"s":-0.01,"v":-2.35},{"l":264.1,"s":-0.08,"v":-2.65},{"l":264.1,"s":-0.17,"v":-2.85},{"l":264.1,"s":-0.27,"v":-3.15},{"l":264.1,"s":-0.33,"v":-3.35},{"l":264.1,"s":-0.4,"v":-3.65},{"l":264.1,"s":-2,"v":-4},
{"l":305.4,"s":2},{"l":305.4,"s":1.83,"v":-0.13},{"l":305.4,"s":1.65,"v":-0.1},{"l":305.4,"s":1.58,"v":-0.085},{"l":305.4,"s":1.44,"v":-0.07},{"l":305.4,"s":1.26,"v":-0.085},{"l":305.4,"s":1.2,"v":-0.1},{"l":305.4,"s":1.17,"v":-0.13},{"l":305.4,"s":1.11,"v":-0.16},{"l":305.4,"s":1.06,"v":-0.19},{"l":305.4,"s":0.98,"v":-0.25},{"l":305.4,"s":0.92,"v":-0.33},{"l":305.4,"s":0.88,"v":-0.42},{"l":305.4,"s":0.75,"v":-0.5},{"l":305.4,"s":0.61,"v":-0.65},{"l":305.4,"s":0.5,"v":-0.85},{"l":305.4,"s":0.4,"v":-1.15},{"l":305.4,"s":0.33,"v":-1.35},{"l":305.4,"s":0.27,"v":-1.65},{"l":305.4,"s":0.18,"v":-1.85},{"l":305.4,"s":0.08,"v":-2.15},{"l":305.4,"s":0.02,"v":-2.35},{"l":305.4,"s":-0.05,"v":-2.65},{"l":305.4,"s":-0.14,"v":-2.85},{"l":305.4,"s":-0.23,"v":-3.15},{"l":305.4,"s":-0.29,"v":-3.35},{"l":305.4,"s":-0.36,"v":-3.65},{"l":305.4,"s":-2,"v":-4},
{"l":353.1,"s":2},{"l":353.1,"s":1.93,"v":-0.13},{"l":353.1,"s":1.75,"v":-0.1},{"l":353.1,"s":1.66,"v":-0.085},{"l":353.1,"s":1.48,"v":-0.07},{"l":353.1,"s":1.27,"v":-0.085},{"l":353.1,"s":1.24,"v":-0.1},{"l":353.1,"s":1.21,"v":-0.13},{"l":353.1,"s":1.14,"v":-0.16},{"l":353.1,"s":1.1,"v":-0.19},{"l":353.1,"s":1,"v":-0.25},{"l":353.1,"s":0.95,"v":-0.33},{"l":353.1,"s":0.91,"v":-0.42},{"l":353.1,"s":0.79,"v":-0.5},{"l":353.1,"s":0.65,"v":-0.65},{"l":353.1,"s":0.54,"v":-0.85},{"l":353.1,"s":0.44,"v":-1.15},{"l":353.1,"s":0.37,"v":-1.35},{"l":353.1,"s":0.3,"v":-1.65},{"l":353.1,"s":0.2,"v":-1.85},{"l":353.1,"s":0.11,"v":-2.15},{"l":353.1,"s":0.05,"v":-2.35},{"l":353.1,"s":-0.02,"v":-2.65},{"l":353.1,"s":-0.11,"v":-2.85},{"l":353.1,"s":-0.2,"v":-3.15},{"l":353.1,"s":-0.26,"v":-3.35},{"l":353.1,"s":-0.33,"v":-3.65},{"l":353.1,"s":-2,"v":-4},
{"l":408.2,"s":2},{"l":408.2,"s":1.86,"v":-0.1},{"l":408.2,"s":1.75,"v":-0.085},{"l":408.2,"s":1.65,"v":-0.07},{"l":408.2,"s":1.6,"v":-0.04},{"l":408.2,"s":1.52,"v":-0.07},{"l":408.2,"s":1.31,"v":-0.085},{"l":408.2,"s":1.28,"v":-0.1},{"l":408.2,"s":1.24,"v":-0.13},{"l":408.2,"s":1.18,"v":-0.16},{"l":408.2,"s":1.13,"v":-0.19},{"l":408.2,"s":1.03,"v":-0.25},{"l":408.2,"s":0.99,"v":-0.33},{"l":408.2,"s":0.95,"v":-0.42},{"l":408.2,"s":0.82,"v":-0.5},{"l":408.2,"s":0.69,"v":-0.65},{"l":408.2,"s":0.59,"v":-0.85},{"l":408.2,"s":0.49,"v":-1.15},{"l":408.2,"s":0.41,"v":-1.35},{"l":408.2,"s":0.34,"v":-1.65},{"l":408.2,"s":0.25,"v":-1.85},{"l":408.2,"s":0.15,"v":-2.15},{"l":408.2,"s":0.1,"v":-2.35},{"l":408.2,"s":0.04,"v":-2.65},{"l":408.2,"s":-0.05,"v":-2.85},{"l":408.2,"s":-0.15,"v":-3.15},{"l":408.2,"s":-0.21,"v":-3.35},{"l":408.2,"s":-0.27,"v":-3.65},{"l":408.2,"s":-2,"v":-4},
{"l":472,"s":2},{"l":472,"s":1.96,"v":-0.1},{"l":472,"s":1.84,"v":-0.085},{"l":472,"s":1.8,"v":-0.07},{"l":472,"s":1.63,"v":-0.04},{"l":472,"s":1.55,"v":-0.07},{"l":472,"s":1.37,"v":-0.085},{"l":472,"s":1.34,"v":-0.1},{"l":472,"s":1.27,"v":-0.13},{"l":472,"s":1.23,"v":-0.16},{"l":472,"s":1.16,"v":-0.19},{"l":472,"s":1.07,"v":-0.25},{"l":472,"s":1.03,"v":-0.33},{"l":472,"s":0.98,"v":-0.42},{"l":472,"s":0.86,"v":-0.5},{"l":472,"s":0.72,"v":-0.65},{"l":472,"s":0.62,"v":-0.85},{"l":472,"s":0.51,"v":-1.15},{"l":472,"s":0.44,"v":-1.35},{"l":472,"s":0.37,"v":-1.65},{"l":472,"s":0.28,"v":-1.85},{"l":472,"s":0.19,"v":-2.15},{"l":472,"s":0.13,"v":-2.35},{"l":472,"s":0.08,"v":-2.65},{"l":472,"s":-0.02,"v":-2.85},{"l":472,"s":-0.12,"v":-3.15},{"l":472,"s":-0.18,"v":-3.35},{"l":472,"s":-0.24,"v":-3.65},{"l":472,"s":-2,"v":-4}
]},
"transform":[{"window":[{"op":"lead","field":"s","as":"s2"}],"groupby":["l"],"sort":[{"field":"s","order":"ascending"}]},{"filter":{"field":"s2","valid":true}}],
"mark":{"type":"rect","width":8.4,"clip":true,"tooltip":false},
"encoding":{
"x":{"field":"l","type":"quantitative","scale":{"type":"log","domain":[0.2,500],"nice":false},"axis":{"orient":"bottom","values":[0.2,1,10,100,500],"format":"~g","title":"lambda [mic]","tickSize":-5,"labelPadding":23,"labelOffset":2,"titlePadding":14}},
"y":{"field":"s","type":"quantitative","scale":{"domain":[-2,2],"nice":false},"axis":{"orient":"left","values":[-2,-1.5,-1,-0.5,0,0.5,1,1.5,2],"labelExpr":"replace(format(datum.value,'~g'),'\u2212','-')","title":"log par. size [mic]","tickSize":-7,"labelPadding":8,"titlePadding":25}},
"y2":{"field":"s2"},
"color":{"field":"v","type":"quantitative","scale":{"domain":[-4,-3,-2,-1,-0.5,-0.33,-0.2,-0.1,-0.07,-0.04,0],"range":["#A52A2A","#BEBEBE","#FF0000","#FFA500","#FFFF00","#00FF00","#40E0D0","#0000FF","#7040F8","#B469EE","#EE82EE"],"interpolate":"rgb"},"legend":{"orient":"none","legendX":441,"legendY":0,"title":null,"direction":"vertical","gradientLength":285,"gradientThickness":22,"gradientStrokeColor":"#000","gradientStrokeWidth":1,"labelExpr":"''","padding":0}}
}},
{"data":{"values":[{"l":1,"s":0}]},"mark":{"type":"point","opacity":0},
"encoding":{
"x":{"field":"l","type":"quantitative","scale":{"type":"log","domain":[0.2,500],"nice":false},"axis":{"orient":"top","values":[0.2,1,10,100,500],"labels":false,"title":null,"tickSize":-5}},
"y":{"field":"s","type":"quantitative","scale":{"domain":[-2,2],"nice":false},"axis":{"orient":"right","values":[-2,-1.5,-1,-0.5,0,0.5,1,1.5,2],"labels":false,"title":null,"tickSize":-7}}
}},
{"data":{"values":[{"l":1,"c":-2}]},"mark":{"type":"point","opacity":0},
"encoding":{
"x":{"field":"l","type":"quantitative","scale":{"type":"log","domain":[0.2,500],"nice":false},"axis":{"orient":"bottom","values":[0.3,0.4,0.5,0.6,0.7,0.8,0.9,2,3,4,5,6,7,8,9,20,30,40,50,60,70,80,90,200,300,400],"labels":false,"title":null,"tickSize":-3,"domain":false}},
"y":{"field":"c","type":"quantitative","scale":{"domain":[-4,0],"nice":false},"axis":{"orient":"right","offset":10,"values":[-3.5,-3,-2.5,-2,-1.5,-1,-0.5],"labels":false,"title":null,"tickSize":4,"domain":false}}
}},
{"data":{"values":[{"l":1,"c":-2}]},"mark":{"type":"point","opacity":0},
"encoding":{
"x":{"field":"l","type":"quantitative","scale":{"type":"log","domain":[0.2,500],"nice":false},"axis":{"orient":"top","values":[0.3,0.4,0.5,0.6,0.7,0.8,0.9,2,3,4,5,6,7,8,9,20,30,40,50,60,70,80,90,200,300,400],"labels":false,"title":null,"tickSize":-3,"domain":false}},
"y":{"field":"c","type":"quantitative","scale":{"domain":[-4,0],"nice":false},"axis":{"orient":"right","offset":32,"values":[-4,-3.5,-3,-2.5,-2,-1.5,-1,-0.5,0],"labelExpr":"datum.value==0?'\u00a00':replace(format(datum.value,'~g'),'\u2212','-')","labelAlign":"left","title":null,"tickSize":-4,"labelPadding":17,"domain":false}}
}}
]}
